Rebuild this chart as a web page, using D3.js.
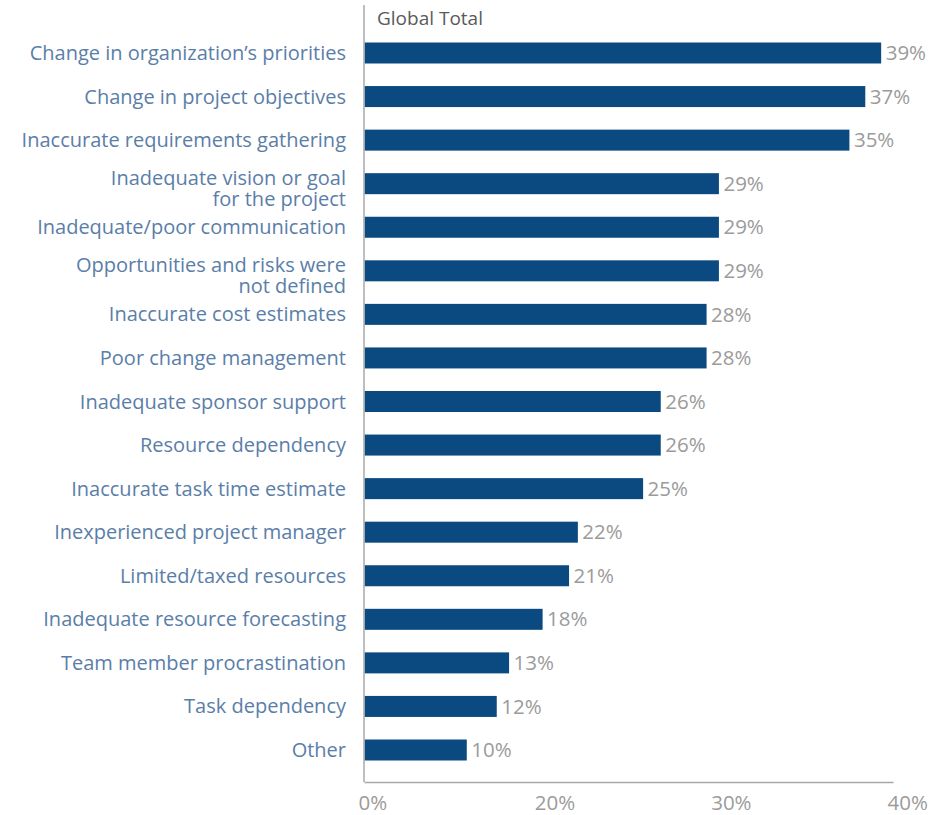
<!DOCTYPE html>
<html>
<head>
<meta charset="utf-8">
<script src="https://cdn.jsdelivr.net/npm/d3@7/dist/d3.min.js"></script>
<style>
  html, body { margin: 0; padding: 0; background: #fff; }
  svg { display: block; }
</style>
</head>
<body>
<svg id="chart" width="931" height="815"></svg>
<script>
// ---- data ----
const categories = [
  "Change in organization’s priorities",
  "Change in project objectives",
  "Inaccurate requirements gathering",
  "Inadequate vision or goal|for the project",
  "Inadequate/poor communication",
  "Opportunities and risks were|not defined",
  "Inaccurate cost estimates",
  "Poor change management",
  "Inadequate sponsor support",
  "Resource dependency",
  "Inaccurate task time estimate",
  "Inexperienced project manager",
  "Limited/taxed resources",
  "Inadequate resource forecasting",
  "Team member procrastination",
  "Task dependency",
  "Other"
];
// printed percentages
const valueLabels = [39, 37, 35, 29, 29, 29, 28, 28, 26, 26, 25, 22, 21, 18, 13, 12, 10];
// bar lengths as read against the drawn axis
const barValues = [39.3, 38.4, 37.5, 30.1, 30.1, 30.1, 29.4, 29.4, 26.8, 26.8, 25.8, 22.1, 21.6, 20.1, 16.4, 15.0, 11.6];
const tickValues = [0, 20, 30, 40];
const seriesName = "Global Total";

// ---- layout ----
const svg = d3.select("#chart");
const margin = { left: 364, top: 5, right: 38, bottom: 33 };
const W = 931, H = 815;
const plotW = W - margin.left - margin.right;   // 529
const axisY = 782;

const x = d3.scaleLinear()
  .domain(tickValues)
  .range([0, plotW / 3, 2 * plotW / 3, plotW]);

const y = d3.scalePoint()
  .domain(categories)
  .range([53, 750]);

const barH = 21;
const g = svg.append("g").attr("transform", `translate(${margin.left},0)`);

// bars
g.selectAll("rect.bar")
  .data(categories)
  .join("rect")
  .attr("class", "bar")
  .attr("x", 0.5)
  .attr("y", d => y(d) - barH / 2)
  .attr("width", (d, i) => x(barValues[i]))
  .attr("height", barH)
  .attr("fill", "#0b4a80");

// value labels
g.selectAll("text.val")
  .data(categories)
  .join("text")
  .attr("class", "val")
  .attr("x", (d, i) => x(barValues[i]) + 5)
  .attr("y", d => y(d))
  .attr("dy", "0.35em")
  .attr("font-family", "'Open Sans', sans-serif")
  .attr("font-size", 20.5)
  .attr("fill", "#9b9b9b")
  .text((d, i) => valueLabels[i] + "%");

// category labels
const lbl = svg.append("g")
  .selectAll("text.cat")
  .data(categories)
  .join("text")
  .attr("class", "cat")
  .attr("text-anchor", "end")
  .attr("font-family", "'Open Sans', sans-serif")
  .attr("font-size", 20)
  .attr("fill", "#5a7ea8");

lbl.each(function(d) {
  const parts = d.split("|");
  const t = d3.select(this);
  const cy = y(d);
  if (parts.length === 1) {
    t.append("tspan").attr("x", 346).attr("y", cy).attr("dy", "0.35em").text(parts[0]);
  } else {
    t.append("tspan").attr("x", 346).attr("y", cy - 6).attr("dy", "0.35em").text(parts[0]);
    t.append("tspan").attr("x", 346).attr("y", cy + 15).attr("dy", "0.35em").text(parts[1]);
  }
});

// axes lines
svg.append("line")
  .attr("x1", margin.left).attr("x2", margin.left)
  .attr("y1", margin.top).attr("y2", axisY)
  .attr("stroke", "#a8a8a8").attr("stroke-width", 1.5);

const xAxis = d3.axisBottom(x)
  .tickValues(tickValues)
  .tickSize(0)
  .tickPadding(0)
  .tickFormat(d => d + "%");

const ax = svg.append("g")
  .attr("transform", `translate(${margin.left},${axisY})`)
  .call(xAxis);
ax.select(".domain").attr("stroke", "#a8a8a8").attr("stroke-width", 1.5);
ax.selectAll(".tick text")
  .attr("text-anchor", "start")
  .attr("x", -6)
  .attr("y", 21)
  .attr("dy", "0.35em")
  .attr("font-family", "'Open Sans', sans-serif")
  .attr("font-size", 20.5)
  .attr("fill", "#9b9b9b");

// series title
svg.append("text")
  .attr("x", 377)
  .attr("y", 18)
  .attr("dy", "0.35em")
  .attr("font-family", "'Open Sans', sans-serif")
  .attr("font-size", 19)
  .attr("fill", "#5a5a5a")
  .text(seriesName);
</script>
</body>
</html>
